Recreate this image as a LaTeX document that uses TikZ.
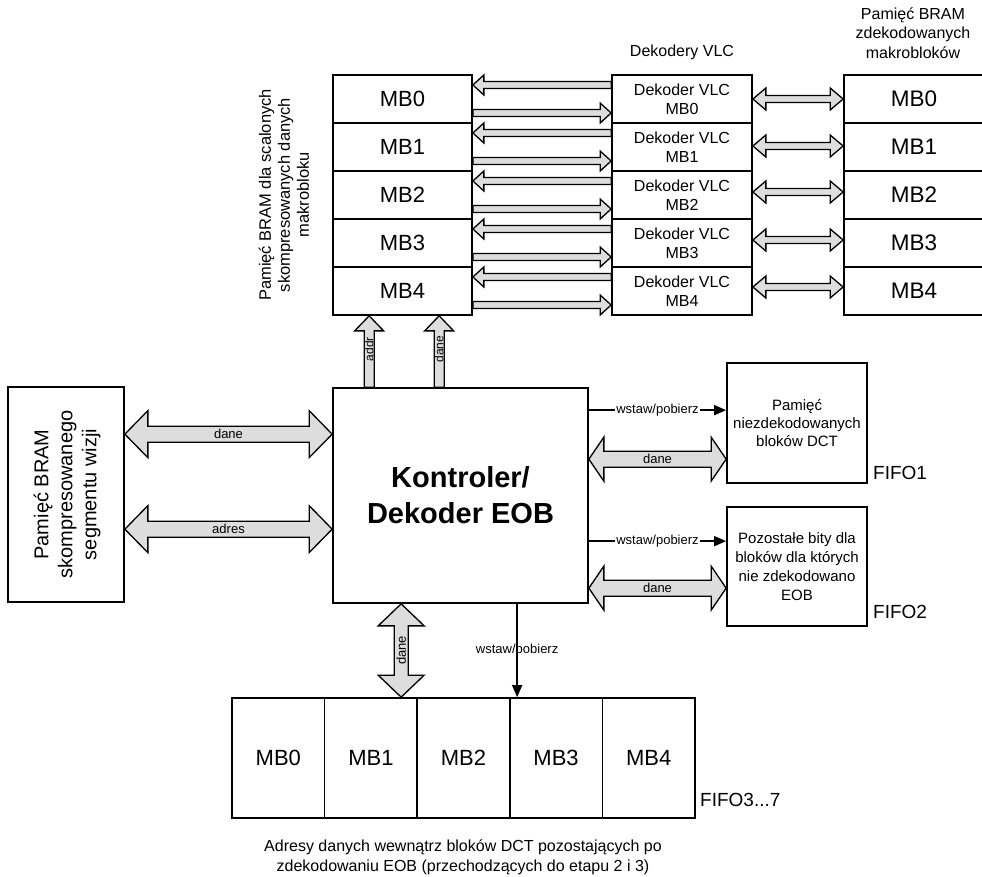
\documentclass[tikz,border=0pt]{standalone}
\usepackage{fontspec}
\setmainfont{Liberation Sans}
\usetikzlibrary{calc,arrows.meta}
\newcommand\fs[2]{\fontsize{#1}{#2}\selectfont}
% fat arrows (axis aligned); #1 first point, #2 second point, #3 shaft half width, #4 head half width, #5 head length
\newcommand\arrR[5]{\draw[fat] let \p1=(#1), \p2=(#2) in (\x1,\y1+#3) -- (\x2-#5,\y1+#3) -- (\x2-#5,\y1+#4) -- (\x2,\y1) -- (\x2-#5,\y1-#4) -- (\x2-#5,\y1-#3) -- (\x1,\y1-#3) -- cycle;}
\newcommand\arrL[5]{\draw[fat] let \p1=(#1), \p2=(#2) in (\x2,\y1+#3) -- (\x1+#5,\y1+#3) -- (\x1+#5,\y1+#4) -- (\x1,\y1) -- (\x1+#5,\y1-#4) -- (\x1+#5,\y1-#3) -- (\x2,\y1-#3) -- cycle;}
\newcommand\arrD[5]{\draw[fat] let \p1=(#1), \p2=(#2) in (\x1,\y1) -- (\x1+#5,\y1+#4) -- (\x1+#5,\y1+#3) -- (\x2-#5,\y1+#3) -- (\x2-#5,\y1+#4) -- (\x2,\y1) -- (\x2-#5,\y1-#4) -- (\x2-#5,\y1-#3) -- (\x1+#5,\y1-#3) -- (\x1+#5,\y1-#4) -- cycle;}
\newcommand\arrUp[5]{\draw[fat] let \p1=(#1), \p2=(#2) in (\x1-#3,\y1) -- (\x1-#3,\y2-#5) -- (\x1-#4,\y2-#5) -- (\x1,\y2) -- (\x1+#4,\y2-#5) -- (\x1+#3,\y2-#5) -- (\x1+#3,\y1) -- cycle;}
\newcommand\arrVD[5]{\draw[fat] let \p1=(#1), \p2=(#2) in (\x1,\y1) -- (\x1+#4,\y1-#5) -- (\x1+#3,\y1-#5) -- (\x1+#3,\y2+#5) -- (\x1+#4,\y2+#5) -- (\x1,\y2) -- (\x1-#4,\y2+#5) -- (\x1-#3,\y2+#5) -- (\x1-#3,\y1-#5) -- (\x1-#4,\y1-#5) -- cycle;}
\begin{document}
\begin{tikzpicture}[x=1pt,y=-1pt,
  box/.style={draw, line width=1.7pt, inner sep=0pt, align=center},
  fat/.style={draw, line width=1.3pt, fill=gray!27, line join=miter, miter limit=10},
  thinarr/.style={line width=1.6pt, -{Triangle[length=12pt,width=10pt]}},
  lbl/.style={inner sep=1pt, font=\fs{13}{15}},
  txt/.style={inner sep=0pt, align=center}]
\clip (0,0) rectangle (982,876);

% top memory columns and decoders
\foreach \i in {0,...,4} {
  \node[box, minimum width=139pt, minimum height=48pt, font=\fs{22}{26}] (L\i) at (402.5,99+48*\i) {MB\i};
  \node[box, minimum width=140pt, minimum height=48pt, font=\fs{16}{19}] (V\i) at (682,99+48*\i) {Dekoder VLC\\MB\i};
  \node[box, minimum width=140pt, minimum height=48pt, font=\fs{22.5}{26}] (R\i) at (914,99+48*\i) {MB\i};
}

\node[txt, font=\fs{16}{19}] (tV) at (682,52) {Dekodery VLC};
\node[txt, font=\fs{16}{19.5}] (tR) at (913,33) {Pamięć BRAM\\zdekodowanych\\makrobloków};
\node[txt, rotate=90, font=\fs{16.5}{19}] (tL) at (284,195) {Pamięć BRAM dla scalonych\\skompresowanych danych\\makrobloku};

% main blocks
\node[box, minimum width=255pt, minimum height=215pt, font=\bfseries\fs{29}{36}] (C) at (460.5,495.5) {Kontroler/\\Dekoder EOB};
\node[box, minimum width=116pt, minimum height=215pt] (M) at (66,494.5) {};
\node[txt, rotate=90, font=\fs{20}{24}] (tM) at ($(M.center)+(1,0)$) {Pamięć BRAM\\skompresowanego\\segmentu wizji};

\node[box, minimum width=140pt, minimum height=120pt, font=\fs{15}{18}] (F1) at (797,423) {Pamięć\\niezdekodowanych\\bloków DCT};
\node[box, minimum width=140pt, minimum height=119pt, font=\fs{15}{19}] (F2) at (797,566.5) {Pozostałe bity dla\\bloków dla których\\nie zdekodowano\\EOB};
\node[txt, anchor=west, font=\fs{19}{22}] (tF1) at (873,473) {FIFO1};
\node[txt, anchor=west, font=\fs{19}{22}] (tF2) at (873,612) {FIFO2};

\foreach \i in {0,...,4} {
  \node[box, minimum width=92.6pt, minimum height=120pt, font=\fs{22}{26}] (B\i) at (278.3+92.6*\i,758) {MB\i};
}
\node[txt, anchor=west, font=\fs{19}{22}] (tF3) at (700,800) {FIFO3...7};
\node[txt, font=\fs{16}{20}] (tB) at (463,857) {Adresy danych wewnątrz bloków DCT pozostających po\\zdekodowaniu EOB (przechodzących do etapu 2 i 3)};

% arrows between memory and VLC decoders
\foreach \i in {0,...,4} {
  \coordinate (la\i) at ($(L\i.east)+(0,-14)$);
  \coordinate (lae\i) at (la\i -| V\i.west);
  \coordinate (lb\i) at ($(L\i.east)+(0,14)$);
  \coordinate (lbe\i) at (lb\i -| V\i.west);
  \arrL{la\i}{lae\i}{3.5pt}{10pt}{11pt}
  \arrR{lb\i}{lbe\i}{3.5pt}{10pt}{11pt}
}
\foreach \i/\o in {0/0,1/-1,2/-3,3/-3,4/-4} {
  \coordinate (va\i) at ($(V\i.east)+(0,\o)$);
  \coordinate (vae\i) at (va\i -| R\i.west);
  \arrD{va\i}{vae\i}{3.5pt}{11pt}{13pt}
}

% controller to memory column
\coordinate (u1) at ($(C.north west)+(37,0)$);
\coordinate (u1t) at (u1 |- L4.south);
\coordinate (u2) at ($(C.north west)+(107,0)$);
\coordinate (u2t) at (u2 |- L4.south);
\arrUp{u1}{u1t}{5pt}{14.5pt}{15pt}
\arrUp{u2}{u2t}{5pt}{14.5pt}{15pt}
\node[lbl, rotate=90, font=\fs{12}{14}] at ($(u1)+(0,-38)$) {addr};
\node[lbl, rotate=90, font=\fs{12}{14}] at ($(u2)+(0,-38)$) {dane};

% left memory to controller
\coordinate (d1) at ($(M.north east)+(0,48)$);
\coordinate (d1e) at (d1 -| C.west);
\coordinate (d2) at ($(M.north east)+(0,143)$);
\coordinate (d2e) at (d2 -| C.west);
\arrD{d1}{d1e}{8pt}{23.5pt}{23pt}
\arrD{d2}{d2e}{8pt}{23.5pt}{23pt}
\node[lbl] at ($(d1)!0.5!(d1e)$) {dane};
\node[lbl] at ($(d2)!0.5!(d2e)$) {adres};

% controller to FIFO1 / FIFO2
\coordinate (w1) at ($(C.north east)+(0,23)$);
\coordinate (w1e) at (w1 -| F1.west);
\coordinate (r1) at ($(C.north east)+(0,72)$);
\coordinate (r1e) at (r1 -| F1.west);
\coordinate (w2) at ($(C.north east)+(0,154)$);
\coordinate (w2e) at (w2 -| F2.west);
\coordinate (r2) at ($(C.north east)+(0,201)$);
\coordinate (r2e) at (r2 -| F2.west);
\draw[thinarr] (w1) -- (w1e) node[midway, lbl, fill=white] {wstaw/pobierz};
\draw[thinarr] (w2) -- (w2e) node[midway, lbl, fill=white] {wstaw/pobierz};
\arrD{r1}{r1e}{8pt}{22pt}{15pt}
\arrD{r2}{r2e}{8pt}{22pt}{15pt}
\node[lbl] at ($(r1)!0.5!(r1e)$) {dane};
\node[lbl] at ($(r2)!0.5!(r2e)$) {dane};

% controller to FIFO3..7
\coordinate (b1) at ($(C.south west)+(69,0)$);
\coordinate (b1e) at (b1 |- B0.north);
\arrVD{b1}{b1e}{7pt}{23pt}{22pt}
\node[lbl, rotate=90] at ($(b1)!0.5!(b1e)$) {dane};
\coordinate (b2) at ($(C.south west)+(185,0)$);
\coordinate (b2e) at (b2 |- B0.north);
\draw[thinarr] (b2) -- (b2e) node[midway, lbl] {wstaw/pobierz};
\end{tikzpicture}
\end{document}
